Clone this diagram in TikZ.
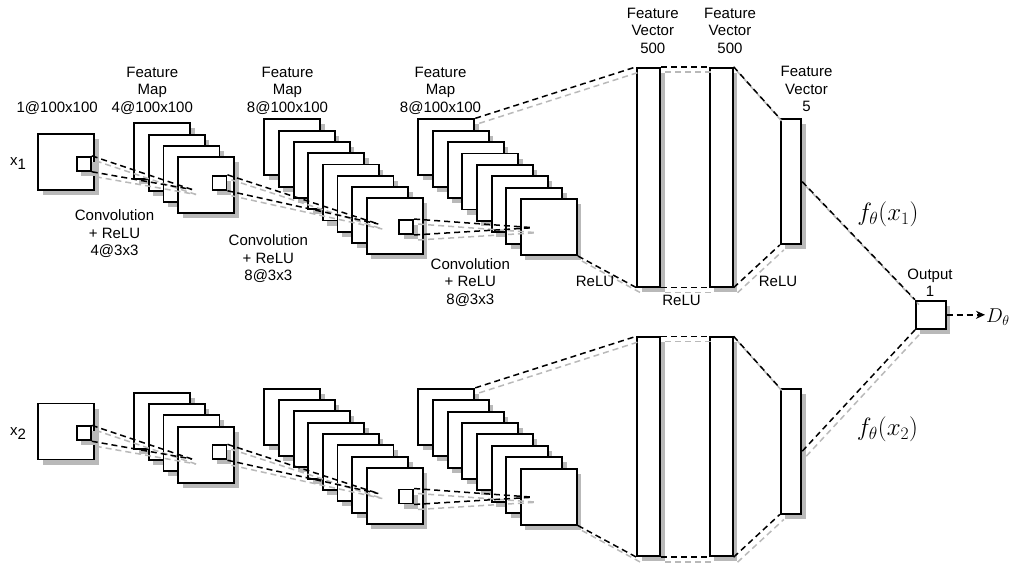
\RequirePackage{fix-cm}
\documentclass[tikz,border=0pt]{standalone}
\usepackage{fontspec}
\setmainfont{Liberation Sans}
\usetikzlibrary{arrows.meta}
\definecolor{shadowgray}{RGB}{185,185,185}
\tikzset{
  box/.style={draw, line width=1.9pt, fill=white, inner sep=0pt},
  map/.style={box, minimum width=56pt, minimum height=56pt},
  kern/.style={box, minimum width=14pt, minimum height=14pt},
  vecA/.style={box, minimum width=22.7pt, minimum height=219pt},
  vecB/.style={box, minimum width=20.6pt, minimum height=124.7pt},
  outbox/.style={box, minimum width=29.7pt, minimum height=28.3pt},
  dl/.style={line width=1.5pt, dash pattern=on 6pt off 4pt,
    preaction={draw=shadowgray, line width=1.5pt, dash pattern=on 6pt off 4pt,
      transform canvas={shift={(4pt,-5pt)}}}},
  lbl/.style={align=center, font=\fontsize{15}{17.5}\selectfont, inner sep=0pt},
  mlbl/.style={inner sep=0pt, font=\fontsize{25}{28}\selectfont},
}
% box with its shadow: width, height, style, name, x, y
\newcommand\bx[6]{%
  \fill[shadowgray] ({#5-#1/2+4.5},{#6-#2/2+5}) rectangle ({#5+#1/2+4.5},{#6+#2/2+5});
  \node[#3] (#4) at ({#5},{#6}) {};
}
\newcommand\cnnbranch[2]{%
  % input
  \bx{56}{56}{map}{#1in}{66.3}{162+#2}
  \bx{14}{14}{kern}{#1k0}{83.8}{163.8+#2}
  % stack 1
  \foreach \k in {0,...,3}{\bx{56}{56}{map}{#1a\k}{162.3+14.6*\k}{151.3+11.3*\k+#2}}
  \bx{14}{14}{kern}{#1k1}{219.5}{182.8+#2}
  % stack 2
  \foreach \k in {0,...,7}{\bx{56}{56}{map}{#1b\k}{292.3+14.63*\k}{147.3+11.3*\k+#2}}
  \bx{14}{14}{kern}{#1k2}{406.2}{227+#2}
  % stack 3
  \foreach \k in {0,...,7}{\bx{56}{56}{map}{#1c\k}{446.3+14.67*\k}{147.3+11.4*\k+#2}}
  % vectors
  \bx{22.7}{219}{vecA}{#1v1}{648.7}{177.2+#2}
  \bx{22.7}{219}{vecA}{#1v2}{721.3}{177.2+#2}
  \bx{20.6}{124.7}{vecB}{#1v3}{791}{181.7+#2}
  % convergence points
  \coordinate (#1p1) at (192,{189.5+#2});
  \coordinate (#1p2) at (378.3,{224+#2});
  \coordinate (#1p3) at (533.3,{227.7+#2});
  % connectors
  \draw[dl] (#1k0.north east) -- (#1p1);
  \draw[dl] (#1k0.south east) -- (#1p1);
  \draw[dl] (#1k1.north east) -- (#1p2);
  \draw[dl] (#1k1.south east) -- (#1p2);
  \draw[dl] (#1k2.north east) -- (#1p3);
  \draw[dl] (#1k2.south east) -- (#1p3);
  \draw[dl] (#1c0.north east) -- (#1v1.north west);
  \draw[dl] (#1c7.south east) -- (#1v1.south west);
  \draw[dl] (#1v1.north east) -- (#1v2.north west);
  \draw[dl] (#1v1.south east) -- (#1v2.south west);
  \draw[dl] (#1v2.north east) -- (#1v3.north west);
  \draw[dl] (#1v2.south east) -- (#1v3.south west);
}
\begin{document}
\begin{tikzpicture}[x=1pt,y=-1pt]
\useasboundingbox (0,0) rectangle (1014,562);
\cnnbranch{t}{0}
\cnnbranch{b}{269.5}
% output
\bx{29.7}{28.3}{outbox}{out}{930.8}{314.8}
\node[mlbl, anchor=west, font=\fontsize{20}{24}\selectfont, inner sep=1pt] (D) at (985,317) {$D_\theta$};
\draw[dl] (tv3.east) -- (out.north west);
\draw[dl] (bv3.east) -- (out.south west);
\draw[line width=1.5pt, dash pattern=on 6pt off 4pt, -{Stealth[length=9pt,width=8pt]}] (out.east) -- (D.west |- out.east);
% labels
\node[lbl] (lx1) at (18,164) {x\raisebox{-4pt}{1}};
\node[lbl] (lx2) at (18,{164+269.5}) {x\raisebox{-4pt}{2}};
\node[lbl] (lin) at (57.2,107.7) {1@100x100};
\node[lbl] (lm1) at (152.3,90.5) {Feature\\Map\\4@100x100};
\node[lbl] (lm2) at (287.5,90.5) {Feature\\Map\\8@100x100};
\node[lbl] (lm3) at (440.5,90.5) {Feature\\Map\\8@100x100};
\node[lbl] (lc1) at (114.5,234) {Convolution\\+ ReLU\\4@3x3};
\node[lbl] (lc2) at (268.3,259) {Convolution\\+ ReLU\\8@3x3};
\node[lbl] (lc3) at (470.3,282.5) {Convolution\\+ ReLU\\8@3x3};
\node[lbl] (lv1) at (652.8,30.7) {Feature\\Vector\\500};
\node[lbl] (lv2) at (730,30.7) {Feature\\Vector\\500};
\node[lbl] (lv3) at (806.5,89.3) {Feature\\Vector\\5};
\node[lbl] (lr1) at (595,281.7) {ReLU};
\node[lbl] (lr2) at (681.5,300.7) {ReLU};
\node[lbl] (lr3) at (778,281.7) {ReLU};
\node[lbl] (lout) at (930,282.8) {Output\\1};
\node[mlbl] (f1) at (888,214) {$f_\theta(x_1)$};
\node[mlbl] (f2) at (887.5,429) {$f_\theta(x_2)$};
\end{tikzpicture}
\end{document}
